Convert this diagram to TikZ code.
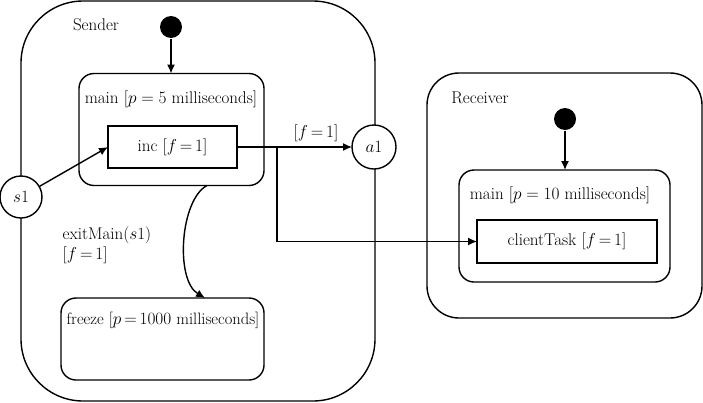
\documentclass[tikz,border=0pt]{standalone}
\usetikzlibrary{arrows.meta,calc}
\begin{document}
\begin{tikzpicture}[x=1pt,y=-1pt, line width=1.4pt,
  font=\fontsize{17}{20}\selectfont,
  region/.style={draw, rounded corners=#1, inner sep=0pt, outer sep=0pt},
  task/.style={draw, line width=2.2pt, inner sep=0pt, outer sep=0pt},
  port/.style={draw, circle, fill=white, inner sep=0pt, outer sep=0pt, minimum size=#1},
  initdot/.style={circle, fill=black, inner sep=0pt, minimum size=22pt},
  txt/.style={inner sep=0pt},
  arr/.style={-{Latex[length=9pt,width=8pt]}}]
\useasboundingbox (0,0) rectangle (703,402);

% Sender
\node[region=62pt, minimum width=354pt, minimum height=400pt] (sender) at (198,201) {};
\node[txt] (senderlbl) at (96,25) {Sender};
\node[initdot] (sdot) at (171,27) {};
\node[region=15pt, minimum width=185pt, minimum height=112pt] (smain) at (171.5,129.5) {};
\node[txt] (smainlbl) at (171,99) {main [$p = 5$ milliseconds]};
\node[task, minimum width=129pt, minimum height=42pt] (inc) at (172.5,147) {inc [$f\,{=}\,1$]};
\node[region=15pt, minimum width=203pt, minimum height=82pt] (freeze) at (162.5,339) {};
\node[txt, font=\fontsize{16.5}{20}\selectfont] (freezelbl) at (163,320) {freeze [$p\,{=}\,1000$ milliseconds]};
\node[port=42pt] (s1) at (21,197) {$s1$};
\node[port=44pt] (a1) at (374,147) {$a1$};
\node[txt, align=left, anchor=west] (exitlbl) at (62,245) {exitMain($s$1)\\[0pt][$f\,{=}\,1$]};
\node[txt] (flbl) at (316,133) {[$f\,{=}\,1$]};

% Receiver
\node[region=32pt, minimum width=275pt, minimum height=245pt] (receiver) at (564.5,195.5) {};
\node[txt] (recvlbl) at (480,98) {Receiver};
\node[initdot] (rdot) at (565,119) {};
\node[region=15pt, minimum width=211pt, minimum height=112pt] (rmain) at (564.5,226) {};
\node[txt] (rmainlbl) at (560,195) {main [$p = 10$ milliseconds]};
\node[task, minimum width=180pt, minimum height=43pt] (ct) at (567,241.5) {clientTask [$f\,{=}\,1$]};

% connectors
\draw[arr] (sdot) -- (smain.north -| sdot);
\draw[arr] (rdot) -- (rmain.north -| rdot);
\draw[arr] (s1) -- (inc.west);
\draw[arr] (inc.east) -- (a1.west);
\coordinate (br) at (277,147);
\draw[arr] (br) |- (ct.west);
\draw[arr] ([xshift=35.5pt]smain.south) .. controls (180,200) and (175,280) .. ([xshift=42.5pt]freeze.north);
\end{tikzpicture}
\end{document}
